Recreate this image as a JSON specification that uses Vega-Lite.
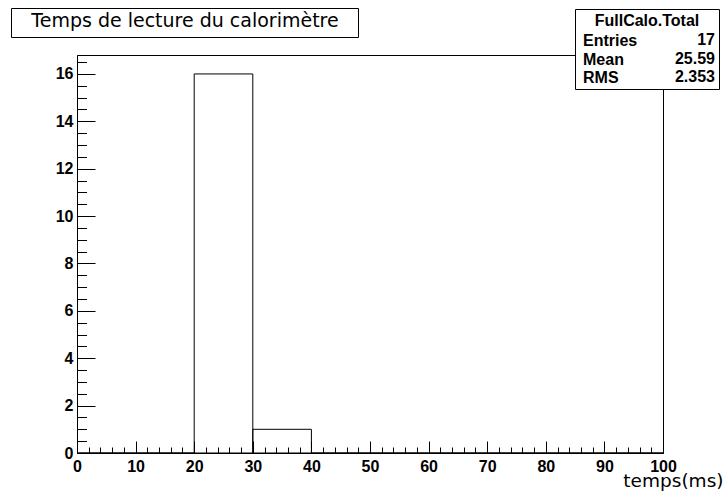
{
  "$schema": "https://vega.github.io/schema/vega-lite/v6.json",
  "width": 586,
  "height": 398,
  "autosize": {"type": "none"},
  "padding": {"left": 77, "top": 55, "right": 64, "bottom": 45},
  "background": "white",
  "config": {
    "font": "Liberation Sans",
    "view": {"stroke": "black", "strokeWidth": 1},
    "axis": {
      "domainColor": "black", "tickColor": "black", "labelColor": "black", "grid": false,
      "labelFont": "Liberation Sans", "labelFontWeight": "bold", "labelFontSize": 16,
      "tickWidth": 1, "domainWidth": 1, "labelFlush": false, "labelOverlap": false
    }
  },
  "datasets": {
    "hist": [
      {"bin_start": 0, "bin_end": 10, "count": 0},
      {"bin_start": 10, "bin_end": 20, "count": 0},
      {"bin_start": 20, "bin_end": 30, "count": 16},
      {"bin_start": 30, "bin_end": 40, "count": 1},
      {"bin_start": 40, "bin_end": 50, "count": 0},
      {"bin_start": 50, "bin_end": 60, "count": 0},
      {"bin_start": 60, "bin_end": 70, "count": 0},
      {"bin_start": 70, "bin_end": 80, "count": 0},
      {"bin_start": 80, "bin_end": 90, "count": 0},
      {"bin_start": 90, "bin_end": 100, "count": 0}
    ],
    "stats": [
      {"stat": "Entries", "value": "17"},
      {"stat": "Mean", "value": "25.59"},
      {"stat": "RMS", "value": "2.353"}
    ]
  },
  "layer": [
    {
      "data": {"name": "hist"},
      "mark": {"type": "rect", "filled": false, "stroke": "black", "strokeWidth": 1},
      "encoding": {
        "x": {
          "field": "bin_start", "type": "quantitative",
          "scale": {"domain": [0, 100], "nice": false, "zero": false},
          "axis": {
            "values": [0, 10, 20, 30, 40, 50, 60, 70, 80, 90, 100],
            "tickSize": -12, "labelPadding": 17, "orient": "bottom",
            "title": "temps(ms)", "titleFont": "DejaVu Sans", "titleFontSize": 18.5,
            "titleFontWeight": "normal", "titleColor": "black", "titleAnchor": "end",
            "titleAlign": "right", "titleX": 646, "titleY": 33, "titleBaseline": "alphabetic"
          }
        },
        "x2": {"field": "bin_end"},
        "y": {
          "field": "count", "type": "quantitative",
          "scale": {"domain": [0, 16.8], "nice": false},
          "axis": {
            "values": [0, 2, 4, 6, 8, 10, 12, 14, 16],
            "tickSize": -18, "labelPadding": 22, "orient": "left", "title": null
          }
        },
        "y2": {"datum": 0}
      }
    },
    {
      "data": {"name": "hist"},
      "mark": {"type": "rect", "opacity": 0},
      "encoding": {
        "x": {
          "field": "bin_start", "type": "quantitative",
          "axis": {
            "values": [2, 4, 6, 8, 12, 14, 16, 18, 22, 24, 26, 28, 32, 34, 36, 38, 42, 44, 46, 48, 52, 54, 56, 58, 62, 64, 66, 68, 72, 74, 76, 78, 82, 84, 86, 88, 92, 94, 96, 98],
            "tickSize": -6, "labels": false, "domain": false, "title": null, "orient": "bottom"
          }
        },
        "x2": {"field": "bin_end"},
        "y": {
          "field": "count", "type": "quantitative",
          "axis": {
            "values": [0.5, 1, 1.5, 2.5, 3, 3.5, 4.5, 5, 5.5, 6.5, 7, 7.5, 8.5, 9, 9.5, 10.5, 11, 11.5, 12.5, 13, 13.5, 14.5, 15, 15.5, 16.5],
            "tickSize": -9.5, "labels": false, "domain": false, "title": null, "orient": "left"
          }
        },
        "y2": {"datum": 0}
      }
    },
    {
      "data": {"name": "stats"},
      "mark": {"type": "point", "size": 0, "opacity": 0},
      "encoding": {
        "color": {
          "field": "value", "type": "nominal",
          "scale": {"domain": ["17", "25.59", "2.353"]},
          "legend": {
            "title": "FullCalo.Total", "orient": "none", "legendX": 498, "legendY": -46,
            "titleFont": "Liberation Sans", "titleFontWeight": "bold", "titleFontSize": 16,
            "titleColor": "black", "titleAnchor": "middle", "titlePadding": 3, "padding": 4,
            "strokeColor": "black", "fillColor": "white",
            "labelFont": "Liberation Sans", "labelFontWeight": "bold", "labelFontSize": 16,
            "labelColor": "black", "labelAlign": "right", "labelOffset": 120, "labelLimit": 0,
            "symbolSize": 0, "symbolOpacity": 0, "symbolStrokeWidth": 0, "rowPadding": 2.5
          }
        },
        "shape": {
          "field": "stat", "type": "nominal",
          "scale": {"domain": ["Entries", "Mean", "RMS"]},
          "legend": {
            "title": null, "orient": "none", "legendX": 486, "legendY": -22, "padding": 0,
            "labelFont": "Liberation Sans", "labelFontWeight": "bold", "labelFontSize": 16,
            "labelColor": "black", "labelAlign": "left", "labelOffset": 4, "labelLimit": 0,
            "symbolSize": 0, "symbolOpacity": 0, "symbolStrokeWidth": 0, "rowPadding": 2.5
          }
        },
        "strokeWidth": {
          "field": "stat", "type": "ordinal",
          "scale": {"domain": ["Entries"]},
          "legend": {
            "title": "Temps de lecture du calorimètre", "orient": "none", "legendX": -66, "legendY": -47,
            "titleFont": "DejaVu Sans", "titleFontSize": 19, "titleFontWeight": "normal",
            "titleColor": "black", "titleAnchor": "middle", "titlePadding": 0, "titleLimit": 500,
            "padding": 4, "strokeColor": "black", "fillColor": "white",
            "labelExpr": "' '", "labelFontSize": 1, "labelOffset": 336,
            "symbolSize": 0, "symbolOpacity": 0, "symbolStrokeWidth": 0, "rowPadding": 0
          }
        }
      }
    }
  ],
  "resolve": {"axis": {"x": "independent", "y": "independent"}}
}
